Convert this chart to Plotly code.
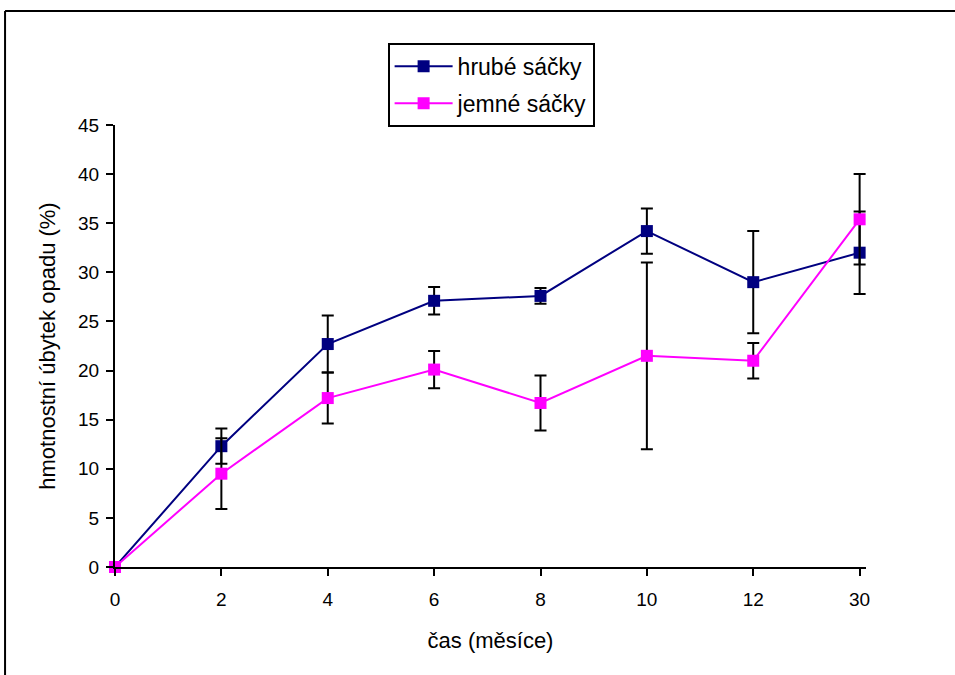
import plotly.graph_objects as go

categories = ["0", "2", "4", "6", "8", "10", "12", "30"]
hrube = [0, 12.3, 22.7, 27.1, 27.6, 34.2, 29.0, 32.0]
hrube_err = [0, 1.8, 2.9, 1.4, 0.8, 2.3, 5.2, 4.2]
jemne = [0, 9.5, 17.2, 20.1, 16.7, 21.5, 21.0, 35.4]
jemne_err = [0, 3.6, 2.6, 1.9, 2.8, 9.5, 1.8, 4.6]
y_ticks = [0, 5, 10, 15, 20, 25, 30, 35, 40, 45]

font_family = "Liberation Sans, Arial, sans-serif"

fig = go.Figure()
fig.add_trace(go.Scatter(
    x=categories, y=hrube, name="hrubé sáčky", mode="lines+markers",
    legendgroup="a", cliponaxis=False,
    line=dict(color="#000080", width=2),
    marker=dict(symbol="square", size=12, color="#000080"),
    error_y=dict(type="data", array=hrube_err, visible=True, color="black", thickness=2, width=6),
))
fig.add_trace(go.Scatter(
    x=categories, y=jemne, name="jemné sáčky", mode="lines+markers",
    legendgroup="b", cliponaxis=False,
    line=dict(color="#FF00FF", width=2),
    marker=dict(symbol="square", size=12, color="#FF00FF"),
    error_y=dict(type="data", array=jemne_err, visible=True, color="black", thickness=2, width=6),
))

fig.update_layout(
    width=955, height=675,
    margin=dict(l=115, r=89, t=125, b=108),
    paper_bgcolor="white", plot_bgcolor="white",
    font=dict(family=font_family, size=19, color="black"),
    showlegend=True,
    legend=dict(
        x=0.363, y=1.186, xanchor="left", yanchor="top",
        bordercolor="black", borderwidth=2, bgcolor="white",
        font=dict(size=23), itemwidth=58, tracegroupgap=4,
    ),
    xaxis=dict(
        type="category", range=[0, 7.06],
        showline=True, linecolor="black", linewidth=2,
        ticks="outside", ticklen=7, tickwidth=2, tickcolor="black",
        tickfont=dict(size=19), ticklabelstandoff=7,
        showgrid=False, zeroline=False,
        title=dict(text="čas (měsíce)", font=dict(size=22), standoff=24),
    ),
    yaxis=dict(
        range=[0, 45], tickvals=y_ticks,
        showline=True, linecolor="black", linewidth=2,
        ticks="outside", ticklen=7, tickwidth=2, tickcolor="black",
        tickfont=dict(size=19), ticklabelstandoff=3,
        showgrid=False, zeroline=False,
        title=dict(text="hmotnostní úbytek opadu (%)", font=dict(size=22), standoff=16),
    ),
    shapes=[
        dict(type="line", xref="paper", yref="paper",
             x0=-0.1464, x1=1.5, y0=1.258, y1=1.258,
             line=dict(color="black", width=2), layer="below"),
        dict(type="line", xref="paper", yref="paper",
             x0=-0.1464, x1=-0.1464, y0=-0.5, y1=1.258,
             line=dict(color="black", width=2), layer="below"),
    ],
)

fig.write_html("out.html", config={"displayModeBar": False},
               post_script="document.body.style.margin='0';")
